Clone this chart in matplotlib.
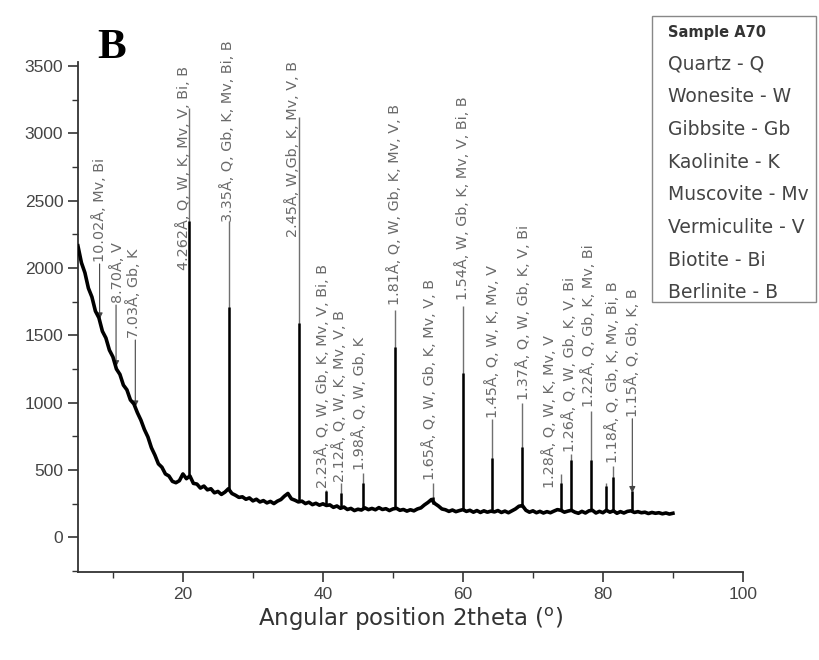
import matplotlib
matplotlib.use("Agg")
import matplotlib.pyplot as plt
from matplotlib.patches import Rectangle
from matplotlib.ticker import MultipleLocator
import numpy as np

# background of the diffractogram, read every 0.5 deg from 5 to 90 deg
bg_theta = np.arange(5.0, 90.5, 0.5)
bg_counts = [
    2165, 2040, 1965, 1850, 1785, 1680, 1630, 1530, 1480, 1390,
    1340, 1250, 1210, 1130, 1095, 1020, 990, 925, 870, 800,
    745, 665, 610, 545, 520, 470, 455, 415, 405, 420,
    470, 435, 455, 400, 395, 365, 380, 352, 360, 330,
    340, 318, 335, 360, 325, 312, 296, 300, 282, 292,
    270, 282, 262, 272, 255, 266, 250, 268, 280, 305,
    325, 285, 275, 262, 268, 250, 260, 242, 252, 238,
    248, 236, 240, 222, 232, 215, 224, 206, 214, 198,
    208, 202, 218, 205, 214, 204, 220, 206, 212, 198,
    210, 215, 200, 206, 194, 204, 196, 210, 218, 240,
    258, 280, 250, 232, 210, 204, 192, 202, 190, 198,
    205, 192, 200, 186, 198, 184, 196, 186, 194, 188,
    198, 184, 194, 182, 196, 210, 230, 235, 200, 186,
    196, 182, 192, 180, 190, 182, 194, 205, 200, 186,
    194, 200, 186, 178, 192, 180, 196, 200, 180, 192,
    182, 200, 186, 196, 178, 190, 180, 192, 196, 184,
    190, 182, 186, 176, 184, 178, 182, 174, 180, 172,
    178,
]

# sharp reflections: position, foot, top of the narrow tip, top of the wide body
peak_theta = [20.84, 26.59, 36.65, 40.42, 42.61, 45.79, 50.37, 55.66, 60.02,
              64.18, 68.42, 74.0, 75.37, 78.3, 80.5, 81.5, 84.1]
peak_base = [450, 350, 265, 240, 225, 212, 207, 250, 200,
             192, 225, 195, 194, 196, 200, 192, 196]
peak_top = [3190, 2350, 3120, 350, 400, 480, 1690, 400, 1720,
            880, 1000, 470, 620, 940, 400, 530, 390]
peak_body = [2350, 1710, 1590, 340, 330, 400, 1410, 300, 1220,
             590, 670, 400, 570, 570, 380, 450, 340]

labels = [
    "10.02Å, Mv, Bi", "8.70Å, V", "7.03Å, Gb, K",
    "4.262Å, Q, W, K, Mv, V, Bi, B", "3.35Å, Q, Gb, K, Mv, Bi, B",
    "2.45Å, W,Gb, K, Mv, V, B", "2.23Å, Q, W, Gb, K, Mv, V, Bi, B",
    "2.12Å, Q, W, K, Mv, V, B", "1.98Å, Q, W, Gb, K",
    "1.81Å, Q, W, Gb, K, Mv, V, B", "1.65Å, Q, W, Gb, K, Mv, V, B",
    "1.54Å, W, Gb, K, Mv, V, Bi, B", "1.45Å, Q, W, K, Mv, V",
    "1.37Å, Q, W, Gb, K, V, Bi", "1.28Å, Q, W, K, Mv, V",
    "1.26Å, Q, W, Gb, K, V, Bi", "1.22Å, Q, Gb, K, Mv, Bi",
    "1.18Å, Q, Gb, K, Mv, Bi, B", "1.15Å, Q, Gb, K, B",
]
label_x = [8.15, 10.6, 12.9, 20.1, 26.4, 35.6, 40.0, 42.4, 45.3, 50.3,
           55.2, 59.9, 64.3, 68.7, 72.4, 75.3, 78.0, 81.4, 84.3]
label_y = [2044, 1739, 1479, 1984, 2341, 2229, 364, 409, 498, 1724,
           424, 1761, 884, 1018, 364, 632, 966, 550, 892]

# arrows pointing at weak reflections
arrow_x = [8.1, 10.45, 13.2, 84.2]
arrow_from = [2030, 1725, 1465, 880]
arrow_to = [1620, 1265, 966, 330]

legend_title = "Sample A70"
legend_items = ["Quartz - Q", "Wonesite - W", "Gibbsite - Gb", "Kaolinite - K",
                "Muscovite - Mv", "Vermiculite - V", "Biotite - Bi", "Berlinite - B"]

plt.rcParams["font.family"] = ["DejaVu Sans"]

fig = plt.figure(figsize=(8.2, 6.6), dpi=100)
ax = fig.add_axes([0.095, 0.133, 0.811, 0.773])

ax.vlines(peak_theta, peak_base, peak_top, color="#707070", lw=1.0, zorder=2)
ax.vlines(peak_theta, peak_base, peak_body, color="black", lw=1.8, zorder=3)
ax.plot(bg_theta, bg_counts, color="black", lw=2.6, zorder=4)

for x, y0, y1 in zip(arrow_x, arrow_from, arrow_to):
    ax.annotate("", xy=(x, y1), xytext=(x, y0),
                arrowprops=dict(arrowstyle="-|>", color="#444444", lw=0.8,
                                mutation_scale=9, shrinkA=0, shrinkB=0))

for txt, x, y in zip(labels, label_x, label_y):
    ax.text(x, y, txt, rotation=90, ha="center", va="bottom",
            fontsize=10.4, color="#6a6a6a")

ax.set_xlim(5, 100)
ax.set_ylim(-260, 3530)
ax.xaxis.set_minor_locator(MultipleLocator(10))
ax.yaxis.set_minor_locator(MultipleLocator(250))
ax.set_xticks([20, 40, 60, 80, 100])
ax.set_yticks(range(0, 3501, 500))

for s in ["top", "right"]:
    ax.spines[s].set_visible(False)
for s in ["left", "bottom"]:
    ax.spines[s].set_color("#333333")
    ax.spines[s].set_linewidth(1.3)

ax.tick_params(which="major", direction="out", length=7, width=1.2,
               color="#333333", labelsize=12.5, labelcolor="#444444")
ax.tick_params(which="minor", direction="out", length=4, width=1.0, color="#333333")
for lab in ax.get_xticklabels() + ax.get_yticklabels():
    lab.set_family("Liberation Sans")

ax.set_xlabel(r"Angular position 2theta ($^{\mathrm{o}}$)", fontsize=16.5,
              color="#333333", labelpad=3)

ax.text(0.051, 1.027, "B", transform=ax.transAxes, fontsize=31, fontweight="bold",
        family="Liberation Serif", va="center", ha="center")

# legend box outside the axes, on the figure
fig.patches.append(Rectangle((0.795, 0.543), 0.2, 0.433, transform=fig.transFigure,
                             facecolor="white", edgecolor="#888888", lw=1.0))
fig.text(0.815, 0.951, legend_title, fontsize=10.5, fontweight="bold",
         color="#333333", va="center")
for i, item in enumerate(legend_items):
    fig.text(0.815, 0.903 - i * 0.0495, item, fontsize=13.5, color="#444444",
             va="center")

fig.savefig("out.png", dpi=100)
